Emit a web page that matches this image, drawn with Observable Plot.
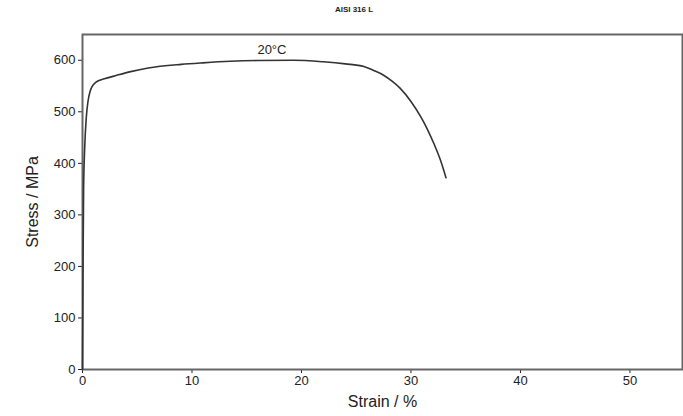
<!DOCTYPE html>
<html>
<head>
<meta charset="utf-8">
<script src="https://cdn.jsdelivr.net/npm/d3@7"></script>
<script src="https://cdn.jsdelivr.net/npm/@observablehq/plot@0.6"></script>
<style>
  html, body { margin: 0; padding: 0; background: #fff; }
  #wrap { position: relative; width: 683px; height: 416px; font-family: "Liberation Sans", Arial, sans-serif; }
  #title { position: absolute; left: 0; top: 5px; width: 708px; text-align: center; font-size: 8px; font-weight: bold; color: #222; }
  #chart { position: absolute; left: 0; top: 22px; }
</style>
</head>
<body>
<div id="wrap">
  <div id="title">AISI 316 L</div>
  <div id="chart"></div>
</div>
<script>
const titleText = "AISI 316 L";
const strain = [0, 0.05, 0.1, 0.2, 0.35, 0.5, 0.7, 0.9, 1.2, 2, 3, 4.4, 6, 9, 11, 13.5, 16, 19.3, 22, 24, 25.7, 26.5, 27.5, 28.3, 29.0, 30.0, 30.9, 31.5, 32.1, 32.7, 33.2];
const stress = [0, 200, 350, 430, 490, 520, 540, 550, 557, 564, 570, 578, 585, 592, 595, 598, 599.5, 600, 597, 593, 588, 581, 571, 559, 546, 520, 490, 466, 438, 406, 372];
const label = "20°C";
const labelStrain = 17.3;
const labelStress = 621;
const xTicks = [0, 10, 20, 30, 40, 50];
const yTicks = [0, 100, 200, 300, 400, 500, 600];

const data = strain.map((s, i) => ({strain: s, stress: stress[i]}));

const plot = Plot.plot({
  width: 683,
  height: 394,
  marginLeft: 82,
  marginRight: 1,
  marginTop: 12,
  marginBottom: 47,
  style: {fontFamily: "Liberation Sans, Arial, sans-serif", fontSize: "13px", color: "#222", background: "#fff"},
  x: {domain: [0, 54.8], ticks: xTicks, tickSize: 4, label: "Strain / %", labelAnchor: "center", labelArrow: "none", labelOffset: 37, tickPadding: 2},
  y: {domain: [0, 650], ticks: yTicks, tickSize: 4, label: "Stress / MPa", labelAnchor: "center", labelArrow: "none", labelOffset: 56, tickPadding: 3},
  marks: [
    Plot.frame({stroke: "#666", strokeWidth: 2}),
    Plot.line(data, {x: "strain", y: "stress", curve: "monotone-x", stroke: "#333", strokeWidth: 1.6}),
    Plot.text([label], {x: () => labelStrain, y: () => labelStress, text: d => d, fontSize: 13, fill: "#222"})
  ]
});
document.getElementById("chart").appendChild(plot);
plot.querySelectorAll("g[aria-label='x-axis label'] text, g[aria-label='y-axis label'] text").forEach(t => t.setAttribute("font-size", "16px"));
</script>
</body>
</html>
